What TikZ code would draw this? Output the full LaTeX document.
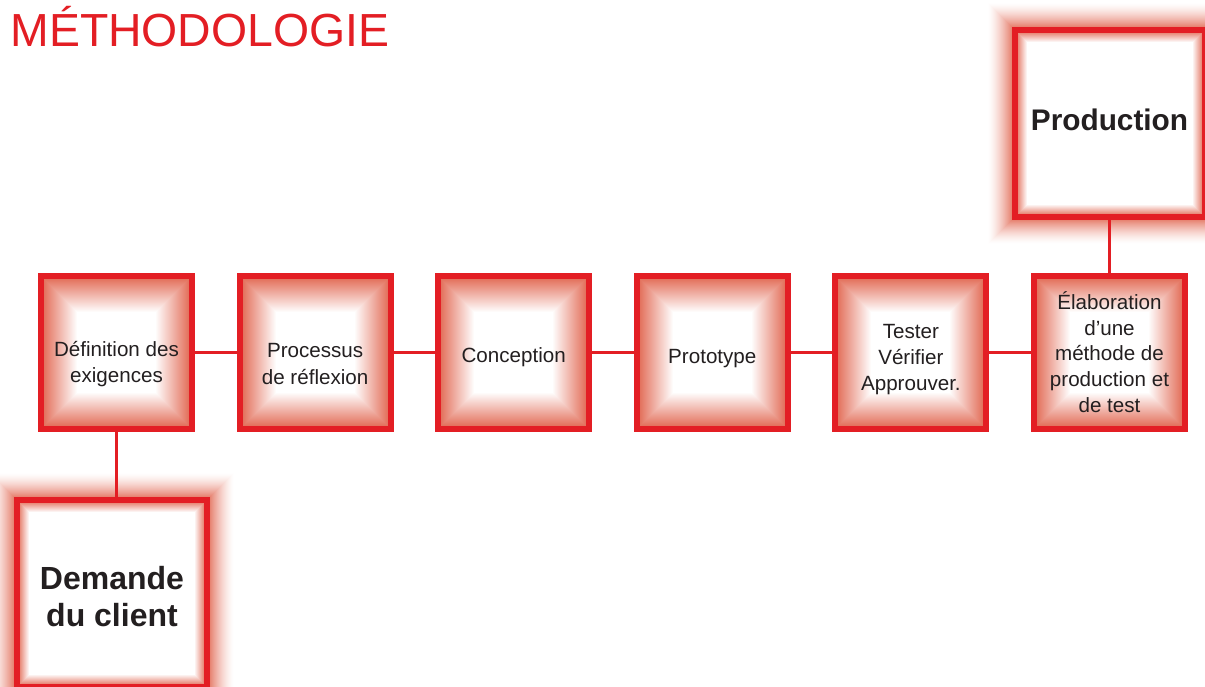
\documentclass[tikz,border=0pt]{standalone}
\usepackage{fontspec}
\setmainfont{Liberation Sans}
\usetikzlibrary{positioning,backgrounds}
\definecolor{rouge}{RGB}{227,30,36}
\definecolor{saumon}{RGB}{225,102,80}
\definecolor{encre}{RGB}{35,31,32}
\newcommand\cale[1]{\rule{0pt}{#1}}
\tikzset{
  fondu/.style={path picture={
    \foreach \i in {0,...,#1} {
      \pgfmathsetmacro\pc{100*(1-\i/#1)}
      \fill[saumon!\pc!white] ([shift={({\i*0.5pt},{\i*0.5pt})}]path picture bounding box.south west)
        rectangle ([shift={({-\i*0.5pt},{-\i*0.5pt})}]path picture bounding box.north east);
    }}},
  etape/.style={draw=rouge, line width=3pt, fondu=36, minimum width=75.5pt, minimum height=76.5pt,
    inner sep=0pt, align=center, text=encre, font=\fontsize{10.3}{13.3}\selectfont},
  pole/.style={etape, fondu=12, minimum width=95pt, minimum height=93.5pt},
  lien/.style={draw=rouge, line width=1.5pt}
}
\begin{document}
\begin{tikzpicture}[x=0.5pt, y=0.5pt, node distance=99.3pt, on grid]
  \useasboundingbox (0,0) rectangle (1205,-686);
  \node[anchor=base west, inner sep=0pt, text=rouge, font=\fontsize{23.2}{26}\selectfont] (titre) at (10,-46) {MÉTHODOLOGIE};

  \node[etape] (def) at (116.5,-352) {\cale{19.5pt}Définition des\\exigences};
  \node[etape, right=of def] (refl) {\cale{19pt}Processus\\de réflexion};
  \node[etape, right=of refl] (conc) {\cale{12.5pt}Conception};
  \node[etape, right=of conc] (proto) {\cale{13.5pt}Prototype};
  \node[etape, font=\fontsize{10.3}{13}\selectfont, right=of proto] (test) {\cale{15pt}Tester\\Vérifier\\Approuver.};
  \node[etape, font=\fontsize{10.3}{12.9}\selectfont, right=of test] (meth) {Élaboration\\d’une\\méthode de\\production et\\de test};
  \node[pole, font=\bfseries\fontsize{14.9}{18}\selectfont, above=114.25pt of meth] (prod) {Production\rule[-4pt]{0pt}{0pt}};
  \node[pole, font=\bfseries\fontsize{16}{18.5}\selectfont, below=120.75pt of def, xshift=-2.25pt] (client) {\cale{14.5pt}Demande\\du client};

  \begin{scope}[on background layer]
    % halo autour des deux grandes cases
    \foreach \n in {prod,client}
      \foreach \i in {24,...,0} {
        \pgfmathsetmacro\pc{85*(1-\i/25)^1.5}
        \fill[saumon!\pc!white] ([shift={({-\i*0.5pt},{-\i*0.5pt})}]\n.south west)
          rectangle ([shift={({\i*0.5pt},{\i*0.5pt})}]\n.north east);
      }
    \path[lien] (def) edge (refl)
      (refl) edge (conc)
      (conc) edge (proto)
      (proto) edge (test)
      (test) edge (meth)
      (def.south) edge (def.south |- client.north)
      (meth.north) edge (prod.south);
  \end{scope}
\end{tikzpicture}
\end{document}
